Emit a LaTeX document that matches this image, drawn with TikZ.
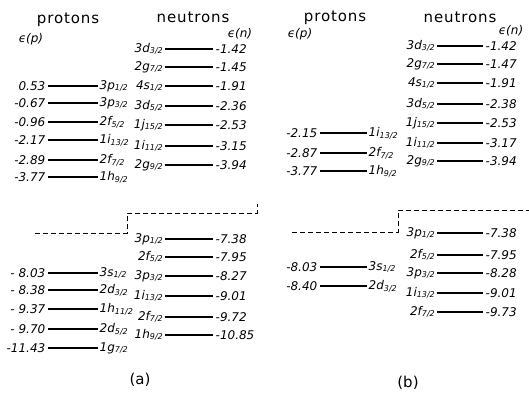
\documentclass[tikz,border=0pt]{standalone}
\usepackage{fontspec}
\setmainfont{DejaVu Sans}
\newfontfamily\titlefont[LetterSpace=6]{DejaVu Sans}
\usetikzlibrary{positioning,calc}
\tikzset{
  shell/.style={line width=1.4pt},
  gap/.style={line width=0.9pt,dash pattern=on 5pt off 3pt},
  eval/.style={inner sep=2.5pt,font=\fontsize{12}{14}\selectfont\itshape},
  orb/.style={inner sep=1.5pt,font=\fontsize{12}{14}\selectfont\itshape},
  ttl/.style={inner sep=0pt,font=\titlefont\fontsize{15}{17}\selectfont},
  elab/.style={inner sep=0pt,font=\fontsize{12}{14}\selectfont\itshape},
  figcap/.style={inner sep=0pt,font=\fontsize{15}{17}\selectfont},
}
\begin{document}
\begin{tikzpicture}[x=1pt,y=-1pt]
  \useasboundingbox (0,0) rectangle (529,392);
  % --- panel (a) ---
  \node[ttl] (pta) at (68,20) {protons};
  \node[ttl] (nta) at (193,17) {neutrons};
  \node[elab] (epa) at (31,39) {ϵ(p)};
  \node[elab] (ena) at (240,34) {ϵ(n)};
  % protons, left column
  \foreach \y/\e/\n/\j [count=\i] in {86/0.53/3p/1,103/-0.67/3p/3,122/-0.96/2f/5,
      140/-2.17/1i/13,160/-2.89/2f/7,177/-3.77/1h/9,
      273/- 8.03/3s/1,290/- 8.38/2d/3,309/- 9.37/1h/11,329/- 9.70/2d/5,348/-11.43/1g/7} {
    \coordinate (pa\i l) at (48,\y);
    \coordinate (pa\i r) at (98,\y);
    \draw[shell] (pa\i l) -- (pa\i r);
    \node[eval,left] (pa\i e) at (pa\i l) {\e};
    \node[orb,right] (pa\i s) at (pa\i r) {\n\textsubscript{\j/2}};
  }
  % neutrons, right column
  \foreach \y/\e/\n/\j [count=\i] in {49/-1.42/3d/3,67/-1.45/2g/7,86/-1.91/4s/1,
      106/-2.36/3d/5,125/-2.53/1j/15,146/-3.15/1i/11,165/-3.94/2g/9,
      239/-7.38/3p/1,257/-7.95/2f/5,276/-8.27/3p/3,296/-9.01/1i/13,
      317/-9.72/2f/7,335/-10.85/1h/9} {
    \coordinate (na\i l) at (165,\y);
    \coordinate (na\i r) at (213,\y);
    \draw[shell] (na\i l) -- (na\i r);
    \node[eval,right] (na\i e) at (na\i r) {\e};
    \node[orb,anchor=base east] (na\i s) at ($(na\i l)+(0,3)$) {\n\textsubscript{\j/2}};
  }
  \draw[gap] (35,233) -- (127,233) -- (127,213) -- (257,213) -- (257,204);
  \node[figcap] (capa) at (140,380) {(a)};
  % --- panel (b) ---
  \node[ttl] (ptb) at (335,18) {protons};
  \node[ttl] (ntb) at (460,17) {neutrons};
  \node[elab] (epb) at (300,34) {ϵ(p)};
  \node[elab] (enb) at (511,31) {ϵ(n)};
  \foreach \y/\e/\n/\j [count=\i] in {133/-2.15/1i/13,153/-2.87/2f/7,171/-3.77/1h/9,
      267/-8.03/3s/1,286/-8.40/2d/3} {
    \coordinate (pb\i l) at (320,\y);
    \coordinate (pb\i r) at (367,\y);
    \draw[shell] (pb\i l) -- (pb\i r);
    \node[eval,left] (pb\i e) at (pb\i l) {\e};
    \node[orb,right] (pb\i s) at (pb\i r) {\n\textsubscript{\j/2}};
  }
  \foreach \y/\e/\n/\j [count=\i] in {46/-1.42/3d/3,64/-1.47/2g/7,83/-1.91/4s/1,
      104/-2.38/3d/5,123/-2.53/1j/15,143/-3.17/1i/11,161/-3.94/2g/9,
      233/-7.38/3p/1,255/-7.95/2f/5,273/-8.28/3p/3,293/-9.01/1i/13,312/-9.73/2f/7} {
    \coordinate (nb\i l) at (437,\y);
    \coordinate (nb\i r) at (483,\y);
    \draw[shell] (nb\i l) -- (nb\i r);
    \node[eval,right] (nb\i e) at (nb\i r) {\e};
    \node[orb,anchor=base east] (nb\i s) at ($(nb\i l)+(0,3)$) {\n\textsubscript{\j/2}};
  }
  \draw[gap] (292,232) -- (398,232) -- (398,210) -- (529,210);
  \node[figcap] (capb) at (408,383) {(b)};
\end{tikzpicture}
\end{document}
